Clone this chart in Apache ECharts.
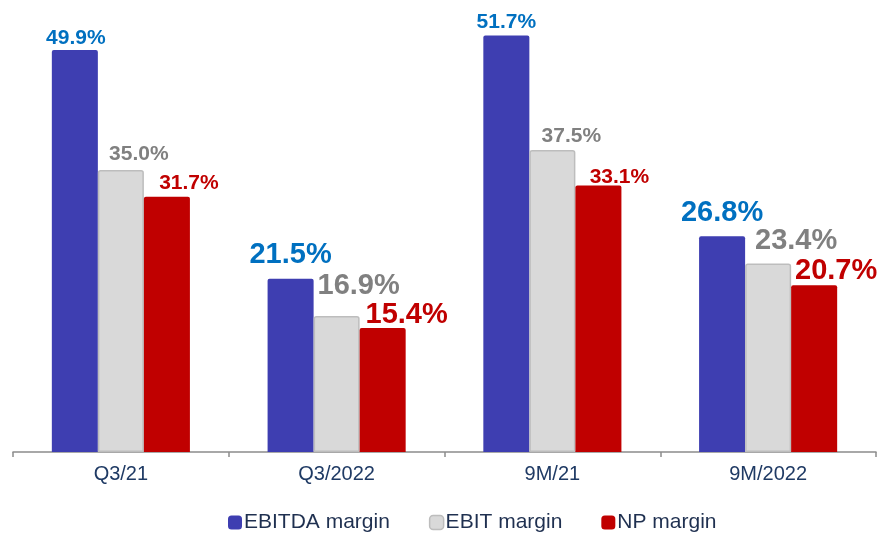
<!DOCTYPE html>
<html>
<head>
<meta charset="utf-8">
<script src="https://cdn.jsdelivr.net/npm/echarts@6/dist/echarts.min.js"></script>
<style>
html,body{margin:0;padding:0;background:#fff;}
#bar{width:878px;height:533px;}
</style>
</head>
<body>
<div id="bar"></div>
<script>
// data
var categories = ['Q3/21', 'Q3/2022', '9M/21', '9M/2022'];
var seriesNames = ['EBITDA margin', 'EBIT margin', 'NP margin'];
var ebitda = [49.9, 21.5, 51.7, 26.8];
var ebit = [35.0, 16.9, 37.5, 23.4];
var np = [31.7, 15.4, 33.1, 20.7];

// label look per category / series (not data)
var labelSize = [21, 29, 21, 29];
var labelDx = [[1, 0, 0, 0], [18, 22, 19, 28], [22, 24, 21, 22]];
var labelDy = [[1, 9, 3, 9], [5, 15, 3, 8], [3, -2, -2, 0]];
var barColor = ['#3E3EB1', '#D9D9D9', '#C00000'];
var labelColor = ['#0070C0', '#808080', '#C00000'];
var font = 'Liberation Sans, Arial, sans-serif';

function makeData(values, s){
	var out = [];
	for(var i=0;i<values.length;i++){
		out.push({
			value: values[i],
			label: {
				fontSize: labelSize[i],
				offset: [labelDx[s][i], -labelDy[s][i]]
			}
		});
	}
	return out;
};

function makeSeries(values, s){
	return {
		name: seriesNames[s],
		type: 'bar',
		barGap: '0%',
		barCategoryGap: '36%',
		data: makeData(values, s),
		itemStyle: {
			color: barColor[s],
			borderColor: s == 1 ? '#BDBDBD' : barColor[s],
			borderWidth: s == 1 ? 1.5 : 0,
			borderRadius: [2, 2, 0, 0]
		},
		label: {
			show: true,
			position: 'top',
			distance: 0,
			color: labelColor[s],
			fontWeight: 'bold',
			fontFamily: font,
			formatter: function(p){ return p.value.toFixed(1) + '%'; }
		}
	};
};

var chart = echarts.init(document.getElementById('bar'));
var option = {
	animation: false,
	backgroundColor: '#fff',
	grid: {left: 13, right: 2, top: 9, bottom: 81},
	legend: {
		left: 223,
		top: 507,
		itemWidth: 14,
		itemHeight: 14,
		itemGap: 39,
		icon: 'roundRect',
		data: [
			{name: seriesNames[0], itemStyle: {color: barColor[0]}},
			{name: seriesNames[1], itemStyle: {color: '#D9D9D9', borderColor: '#BDBDBD', borderWidth: 1.5}},
			{name: seriesNames[2], itemStyle: {color: barColor[2]}}
		],
		textStyle: {fontSize: 21, color: '#1F3050', fontFamily: font, padding: [0, 0, 0, -3]}
	},
	xAxis: {
		type: 'category',
		data: categories,
		axisLine: {lineStyle: {color: '#8C8C8C', width: 1.5}},
		axisTick: {show: true, length: 5, lineStyle: {color: '#8C8C8C', width: 1.5}},
		axisLabel: {fontSize: 20, color: '#1F3A64', fontFamily: font, margin: 12}
	},
	yAxis: {
		type: 'value',
		min: 0,
		max: 55,
		show: false,
		splitLine: {show: false}
	},
	series: [
		makeSeries(ebitda, 0),
		makeSeries(ebit, 1),
		makeSeries(np, 2)
	]
};
chart.setOption(option);
</script>
</body>
</html>
